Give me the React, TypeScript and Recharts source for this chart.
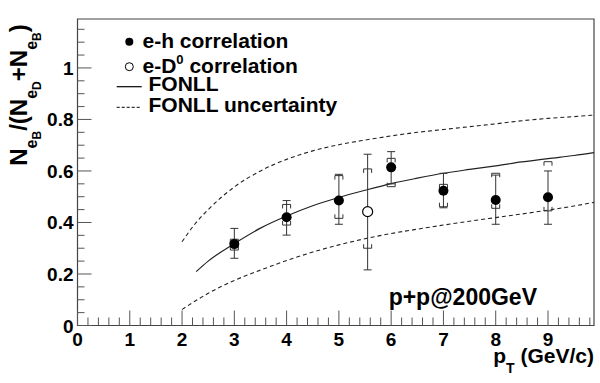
import { ComposedChart, XAxis, YAxis, Scatter, Line, ErrorBar, ReferenceArea, Legend, Customized } from 'recharts';

const FONT = '"Liberation Sans", Arial, Helvetica, sans-serif';

// e-h correlation
const ehX = [3, 4, 5, 6, 7, 8, 9];
const ehY = [0.316, 0.42, 0.485, 0.614, 0.523, 0.487, 0.498];
const ehStatLo = [0.261, 0.351, 0.393, 0.55, 0.457, 0.393, 0.393];
const ehStatHi = [0.377, 0.485, 0.587, 0.675, 0.591, 0.584, 0.6];
const ehSysLo = [0.293, 0.39, 0.416, 0.539, 0.461, 0.455, 0.445];
const ehSysHi = [0.335, 0.47, 0.582, 0.649, 0.548, 0.591, 0.636];

// e-D0 correlation
const edX = [5.55];
const edY = [0.442];
const edStatLo = [0.216];
const edStatHi = [0.665];
const edSysLo = [0.3];
const edSysHi = [0.608];

// FONLL central curve
const fonllX = [2.27, 2.5, 3, 3.5, 4, 4.5, 5, 5.5, 6, 6.5, 7, 7.5, 8, 8.5, 9, 9.5, 9.88];
const fonllY = [0.209, 0.25, 0.318, 0.378, 0.425, 0.465, 0.497, 0.525, 0.551, 0.572, 0.591, 0.606, 0.62, 0.635, 0.648, 0.66, 0.671];

// FONLL uncertainty band
const bandX = [2, 2.25, 2.5, 3, 3.5, 4, 4.5, 5, 5.5, 6, 6.5, 7, 7.5, 8, 8.5, 9, 9.5, 9.88];
const bandHi = [0.325, 0.395, 0.45, 0.538, 0.6, 0.645, 0.678, 0.702, 0.72, 0.736, 0.75, 0.761, 0.772, 0.783, 0.795, 0.804, 0.811, 0.817];
const bandLo = [0.062, 0.095, 0.125, 0.175, 0.215, 0.252, 0.285, 0.313, 0.337, 0.357, 0.374, 0.39, 0.405, 0.419, 0.433, 0.448, 0.464, 0.478];

const xTickLabels = ['0', '1', '2', '3', '4', '5', '6', '7', '8', '9'];
const yTickLabels = ['0', '0.2', '0.4', '0.6', '0.8', '1'];

const X_MAX = 9.88;
const Y_MAX = 1.19;

const xTicks = Array.from({ length: 50 }, (_, i) => +(i * 0.2).toFixed(1));
const yTicks = Array.from({ length: 24 }, (_, i) => +(i * 0.05).toFixed(2));

const pts = (xs: number[], ys: number[], lo: number[], hi: number[]) =>
  xs.map((x, i) => ({ x, y: ys[i], err: [ys[i] - lo[i], hi[i] - ys[i]] }));
const line = (xs: number[], ys: number[]) => xs.map((x, i) => ({ x, y: ys[i] }));

const ehData = pts(ehX, ehY, ehStatLo, ehStatHi);
const edData = pts(edX, edY, edStatLo, edStatHi);
const sysTop = [...line(ehX, ehSysHi), ...line(edX, edSysHi)];
const sysBot = [...line(ehX, ehSysLo), ...line(edX, edSysLo)];

const labelStyle = { fontFamily: FONT, fontWeight: 700, fontSize: 19, fill: '#000' };

function XTick({ x, y, payload }: any) {
  const v = payload.value;
  const major = Math.abs(v - Math.round(v)) < 1e-6;
  return (
    <g>
      <line x1={x} x2={x} y1={y} y2={y - (major ? 15 : 8)} stroke="#555" />
      {major && (
        <text x={x} y={y + 20} textAnchor="middle" style={labelStyle}>
          {xTickLabels[Math.round(v)]}
        </text>
      )}
    </g>
  );
}

function YTick({ x, y, payload }: any) {
  const v = payload.value;
  const major = Math.abs(v * 5 - Math.round(v * 5)) < 1e-6;
  return (
    <g>
      <line x1={x} x2={x + (major ? 14 : 7)} y1={y} y2={y} stroke="#555" />
      {major && (
        <text x={x - 4} y={y + 7} textAnchor="end" style={labelStyle}>
          {yTickLabels[Math.round(v * 5)]}
        </text>
      )}
    </g>
  );
}

const Dot = ({ cx, cy }: any) => <circle cx={cx} cy={cy} r={5} fill="#000" />;
const OpenDot = ({ cx, cy }: any) => <circle cx={cx} cy={cy} r={5} fill="#fff" stroke="#000" strokeWidth={1.2} />;
const BracketTop = ({ cx, cy }: any) => (
  <path d={`M${cx - 4},${cy + 4}V${cy}H${cx + 4}V${cy + 4}`} fill="none" stroke="#333" strokeWidth={1} />
);
const BracketBot = ({ cx, cy }: any) => (
  <path d={`M${cx - 4},${cy - 4}V${cy}H${cx + 4}V${cy - 4}`} fill="none" stroke="#333" strokeWidth={1} />
);

const textStyle = { fontFamily: FONT, fontWeight: 700, fill: '#000' };

function LegendBox() {
  return (
    <svg width={600} height={130} style={{ overflow: 'visible' }}>
      <circle cx={129.3} cy={41.7} r={4} fill="#000" />
      <text x={142.5} y={48.3} fontSize={21} style={textStyle}>e-h correlation</text>
      <circle cx={129.3} cy={66.7} r={4} fill="#fff" stroke="#000" strokeWidth={1} />
      <text x={142.5} y={73.3} fontSize={21} style={textStyle}>
        e-D<tspan fontSize={13} dy={-9}>0</tspan>
        <tspan dy={9}> correlation</tspan>
      </text>
      <line x1={116.7} x2={141.7} y1={86.7} y2={86.7} stroke="#000" strokeWidth={1.2} />
      <text x={148.5} y={90.7} fontSize={21} style={textStyle}>FONLL</text>
      <line x1={116.7} x2={141.7} y1={107.3} y2={107.3} stroke="#000" strokeWidth={1} strokeDasharray="3 2" />
      <text x={148.5} y={111.7} fontSize={21} style={textStyle}>FONLL uncertainty</text>
    </svg>
  );
}

function Titles() {
  return (
    <g>
      <text x={537} y={305} textAnchor="end" fontSize={23} style={textStyle}>p+p@200GeV</text>
      <text x={594} y={363} textAnchor="end" fontSize={21} style={textStyle}>
        p<tspan fontSize={14} dy={10}>T</tspan>
        <tspan dy={-10}> (GeV/c)</tspan>
      </text>
      <text transform="translate(27,95) rotate(-90)" textAnchor="middle" fontSize={24} style={textStyle}>
        N<tspan fontSize={16} dy={10}>e</tspan>
        <tspan fontSize={12} dy={4}>B</tspan>
        <tspan dy={-14}>/(N</tspan>
        <tspan fontSize={16} dy={10}>e</tspan>
        <tspan fontSize={12} dy={4}>D</tspan>
        <tspan dy={-14}>+N</tspan>
        <tspan fontSize={16} dy={10}>e</tspan>
        <tspan fontSize={12} dy={4}>B</tspan>
        <tspan dy={-14}>)</tspan>
      </text>
    </g>
  );
}

export default function App() {
  return (
    <div style={{ position: 'absolute', left: 0, top: 0, background: '#fff' }}>
      <ComposedChart width={600} height={383} margin={{ top: 19, right: 6, bottom: 0, left: 0 }}>
        <XAxis
          dataKey="x"
          type="number"
          domain={[0, X_MAX]}
          ticks={xTicks}
          interval={0}
          tick={<XTick />}
          tickLine={false}
          axisLine={false}
          tickSize={0}
          tickMargin={0}
          height={57.5}
          allowDataOverflow
        />
        <YAxis
          dataKey="y"
          type="number"
          domain={[0, Y_MAX]}
          ticks={yTicks}
          interval={0}
          tick={<YTick />}
          tickLine={false}
          axisLine={false}
          tickSize={0}
          tickMargin={0}
          width={77.5}
          allowDataOverflow
        />
        <ReferenceArea x1={0} x2={X_MAX} y1={0} y2={Y_MAX} fill="none" stroke="#444" strokeWidth={1.2} />
        <Line data={line(bandX, bandHi)} dataKey="y" type="monotone" stroke="#222" strokeWidth={1.1} strokeDasharray="4 3" dot={false} isAnimationActive={false} />
        <Line data={line(bandX, bandLo)} dataKey="y" type="monotone" stroke="#222" strokeWidth={1.1} strokeDasharray="4 3" dot={false} isAnimationActive={false} />
        <Line data={line(fonllX, fonllY)} dataKey="y" type="monotone" stroke="#222" strokeWidth={1.2} dot={false} isAnimationActive={false} />
        <Scatter data={sysTop} dataKey="y" shape={<BracketTop />} isAnimationActive={false} />
        <Scatter data={sysBot} dataKey="y" shape={<BracketBot />} isAnimationActive={false} />
        <Scatter data={edData} dataKey="y" shape={<OpenDot />} isAnimationActive={false}>
          <ErrorBar dataKey="err" direction="y" width={4} stroke="#333" strokeWidth={1} />
        </Scatter>
        <Scatter data={ehData} dataKey="y" shape={<Dot />} isAnimationActive={false}>
          <ErrorBar dataKey="err" direction="y" width={4} stroke="#333" strokeWidth={1} />
        </Scatter>
        <Legend
          layout="vertical"
          align="center"
          verticalAlign="middle"
          content={<LegendBox />}
          wrapperStyle={{ left: 0, top: 0, width: 600, height: 130 }}
        />
        <Customized component={<Titles />} />
      </ComposedChart>
    </div>
  );
}
